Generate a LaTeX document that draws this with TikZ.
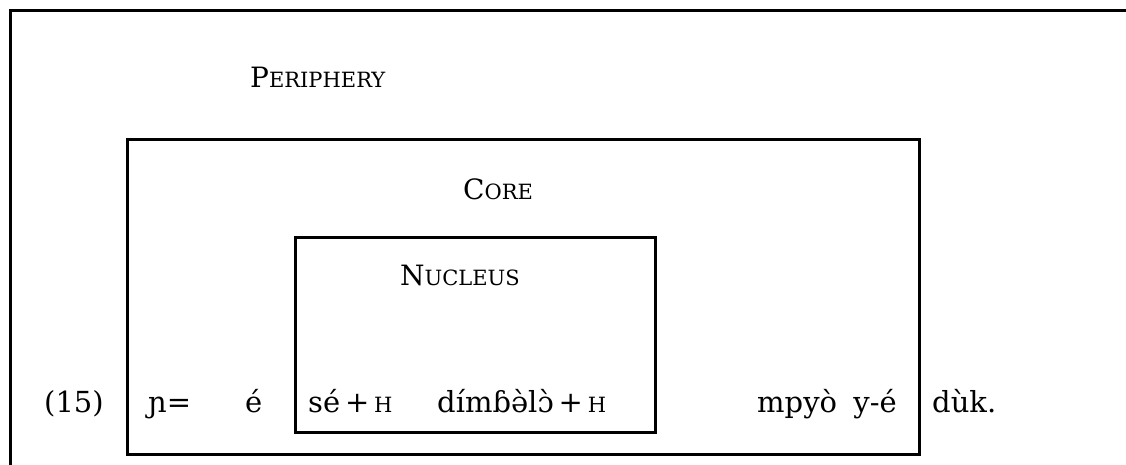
\documentclass[tikz,border=0pt]{standalone}
\usepackage{fontspec}
\setmainfont{DejaVu Serif}
\newcommand\mysc[2]{{\fontsize{28}{32}\selectfont #1}{\fontsize{21}{25}\selectfont #2}}
\newcommand\smH{{\fontsize{21}{24}\selectfont H}}
\begin{document}
\begin{tikzpicture}[x=1pt,y=-1pt,
  box/.style={draw, line width=3pt, inner sep=0pt},
  txt/.style={anchor=base west, inner sep=0pt, font=\fontsize{29}{34}\selectfont},
  lbl/.style={anchor=base west, inner sep=0pt}]
\useasboundingbox (0,0) rectangle (1126,465);
% periphery (open to the right and below)
\coordinate (pbl) at (10,465);
\coordinate (ptl) at (10,11);
\coordinate (ptr) at (1126,11);
\draw[line width=3pt] (pbl) -- (ptl) -- (ptr);
% core and nucleus boxes
\node[box, minimum width=792pt, minimum height=314pt] (core) at (523,297) {};
\node[box, minimum width=360pt, minimum height=195pt] (nucleus) at (475,334.5) {};
% labels
\node[lbl] (lper) at (250,88) {\mysc{P}{ERIPHERY}};
\node[lbl] (lcore) at (463,199) {\mysc{C}{ORE}};
\node[lbl] (lnuc) at (400,285) {\mysc{N}{UCLEUS}};
% example line
\node[txt] (num) at (44,412) {(15)};
\node[txt] (w1) at (148,412) {ɲ=};
\node[txt] (w2) at (245,412) {é};
\node[txt] (w3) at (308,412) {sé\,+\,\smH};
\node[txt] (w4) at (437,412) {dímɓə̀lɔ̀\,+\,\smH};
\node[txt] (w5) at (757,412) {mpyò};
\node[txt, anchor=base east] (w6) at (897,412) {y-é};
\node[txt] (w7) at (932,412) {dùk.};
\end{tikzpicture}
\end{document}
